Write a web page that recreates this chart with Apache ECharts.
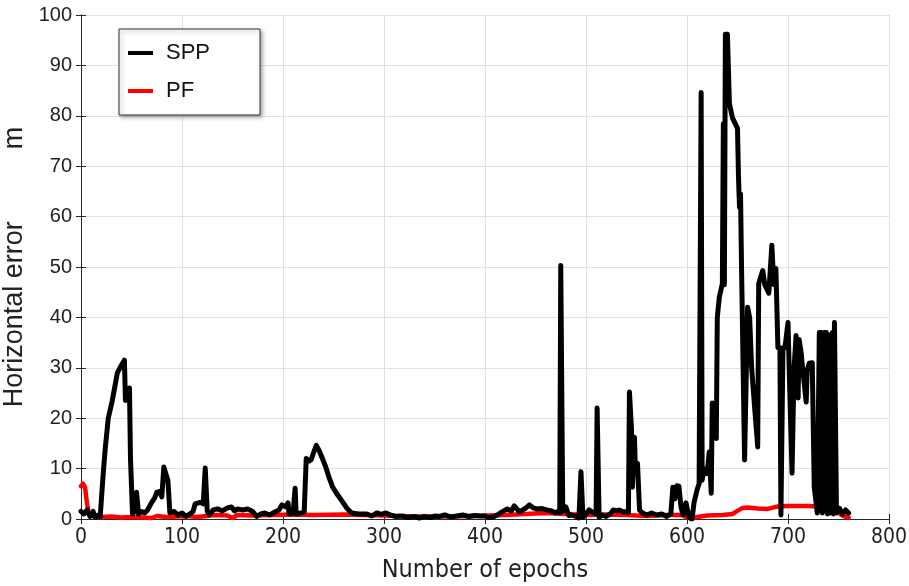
<!DOCTYPE html>
<html>
<head>
<meta charset="utf-8">
<script src="https://cdn.jsdelivr.net/npm/echarts@6/dist/echarts.min.js"></script>
<style>
  html, body { margin: 0; padding: 0; background: #fff; }
  #chart { width: 909px; height: 586px; }
</style>
</head>
<body>
<div id="chart"></div>
<script>
// SPP horizontal error (m) per epoch
const sppEpoch = [0, 3, 6, 9, 12, 14, 17, 19, 22, 24, 27, 31, 36, 40, 43, 44, 46, 48, 49, 51,
  53, 55, 57, 60, 63, 66, 70, 73, 75, 78, 80, 82, 84, 86, 88, 92, 96, 100, 104, 108,
  111, 113, 118, 121, 123, 125, 127, 131, 135, 140, 145, 149, 152, 155, 160, 165, 170, 174, 178, 182,
  187, 192, 196, 199, 203, 205, 206, 210, 212, 213, 218, 221, 223, 226, 228, 230, 233, 236, 239, 242,
  246, 249, 254, 259, 263, 268, 275, 283, 288, 293, 297, 302, 306, 312, 318, 324, 330, 335, 340, 346,
  351, 355, 360, 366, 372, 378, 384, 390, 395, 400, 404, 408, 413, 417, 422, 426, 429, 434, 440, 444,
  448, 451, 456, 461, 466, 470, 473, 474, 475, 477, 480, 483, 486, 490, 493, 495, 497, 500, 503, 506,
  508, 510, 511, 513, 516, 520, 524, 527, 531, 533, 537, 540, 542, 543, 545, 546, 548, 549, 551, 553,
  556, 560, 565, 570, 575, 580, 584, 586, 588, 590, 592, 594, 596, 599, 602, 605, 607, 610, 612, 614,
  615, 617, 620, 622, 624, 625, 628, 629, 630, 632, 635, 636, 637, 638, 640, 642, 645, 650, 651, 652,
  653, 654, 657, 660, 662, 664, 667, 670, 671, 673, 675, 677, 681, 684, 686, 688, 690, 692, 693, 695,
  697, 700, 702, 704, 706, 708, 710, 711, 713, 714, 716, 718, 719, 721, 724, 726, 729, 731, 733, 734,
  736, 738, 739, 741, 742, 744, 745, 746, 748, 751, 754, 757, 760];
const sppError = [1.5, 1.0, 1.8, 0.5, 1.5, 0.3, 0.8, 0.5, 9, 14, 20, 23.5, 29, 30.5, 31.5, 23.5, 24, 26, 12, 1,
  1.5, 5.3, 1, 1.5, 1.2, 1.8, 3.3, 4.2, 5.3, 5.5, 4.4, 10.3, 9, 7.7, 1.2, 1.5, 0.8, 1.2, 0.5, 1,
  1.5, 3, 3.3, 3, 10.1, 1.5, 0.8, 1.8, 2, 1.6, 2.2, 2.4, 1.6, 2, 1.8, 2, 1.5, 0.5, 1, 1.2,
  0.8, 1.4, 1.8, 2.8, 2.4, 3.2, 1.0, 1.2, 6.1, 1, 1.2, 1.4, 12, 11.5, 11.8, 13, 14.6, 13.5, 12, 10.5,
  8, 6.4, 4.8, 3.4, 2.2, 1.2, 1.0, 1, 0.6, 1.2, 0.9, 1.2, 0.8, 0.5, 0.6, 0.3, 0.5, 0.2, 0.5, 0.3,
  0.6, 0.5, 0.8, 0.4, 0.6, 0.8, 0.5, 0.7, 0.6, 0.6, 0.3, 0.4, 0.9, 1.4, 2, 1.6, 2.6, 1.4, 2.1, 2.8,
  2.2, 2, 2.1, 1.8, 1.6, 1.2, 1.6, 1.2, 50.3, 1.5, 2.4, 0.7, 0.8, 0.5, 0.2, 9.4, 0.3, 1, 1.8, 1.4,
  1.2, 1, 22, 0.3, 0.8, 0.5, 1, 1.8, 1.6, 1.8, 1.4, 1.5, 1.2, 25.2, 18, 6.3, 16.2, 9, 11, 1.8,
  1.2, 0.8, 1.2, 0.8, 1, 0.5, 1, 6.3, 4, 6.6, 6.5, 2.5, 0.8, 3.2, 0.3, 0, 3.3, 5.8, 7, 84.6,
  7.7, 10, 9, 13.3, 5.1, 23, 16.5, 16, 40, 44, 46.7, 78.4, 46.5, 96.2, 96.2, 82.4, 79.6, 77.5, 67.7, 61.8,
  64.5, 50, 11.7, 42, 40, 30, 22, 14.3, 46.7, 48, 49.3, 46.5, 44.8, 54.3, 46.5, 49.7, 34, 34, 0.8, 34,
  34, 39, 23.5, 9.1, 30, 36.4, 24, 35.6, 33, 30.9, 27, 23.2, 29.4, 30.9, 31, 6.3, 1.2, 37, 37, 1.2,
  37, 37, 1, 36.5, 1.2, 37, 1, 39, 1.2, 2.1, 1, 1.8, 1.2];

// PF horizontal error (m)
const pfEpoch = [0, 2, 4, 6, 8, 12, 20, 30, 40, 50, 60, 70, 75, 85, 95, 105, 115, 125, 130, 145,
  150, 155, 170, 190, 210, 230, 260, 280, 300, 330, 360, 390, 420, 440, 460, 480, 500, 520, 540, 560,
  580, 595, 600, 605, 610, 620, 635, 645, 650, 655, 660, 670, 680, 690, 700, 720, 730, 740, 750, 755, 760];
const pfError = [6.5, 7, 6.3, 3, 0.8, 0.6, 0.4, 0.5, 0.3, 0.4, 0.3, 0.2, 0.6, 0.4, 0.5, 0.6, 0.4, 0.6, 0.8, 0.7,
  0.2, 0.8, 0.7, 0.8, 0.9, 0.8, 0.9, 0.8, 0.7, 0.5, 0.5, 0.6, 0.8, 1.0, 1.2, 1.0, 0.8, 0.9, 0.8, 0.6,
  0.8, 0.8, 0.3, 0.1, 0.4, 0.7, 0.8, 1.0, 1.6, 2.2, 2.3, 2.1, 2.0, 2.5, 2.6, 2.6, 2.5, 2.0, 1.2, 0.6, 0.3];

const xTicks = { min: 0, max: 800, interval: 100 };
const yTicks = { min: 0, max: 100, interval: 10 };

const FONT = "'Liberation Sans', 'Noto Sans', sans-serif";
const NARROW = "'Liberation Sans Narrow', 'DejaVu Sans Condensed', 'Liberation Sans', sans-serif";

const pairs = (xs, ys) => xs.map((x, i) => [x, ys[i]]);

const chart = echarts.init(document.getElementById('chart'), null, { renderer: 'canvas' });

const gridLine = { show: true, lineStyle: { color: '#e0e0e0', width: 1 } };
const frame = { show: true, lineStyle: { color: '#262626', width: 1 } };
const inTick = { show: true, inside: true, length: 5, lineStyle: { color: '#262626' } };

chart.setOption({
  animation: false,
  grid: { left: 81, right: 20, top: 15, bottom: 67, containLabel: false, outerBoundsMode: 'none' },
  legend: {
    orient: 'vertical',
    left: 119, top: 29,
    padding: [13, 50, 13, 9],
    itemGap: 16,
    itemWidth: 25, itemHeight: 4,
    icon: 'rect',
    backgroundColor: '#fff',
    borderColor: '#333',
    borderWidth: 1,
    shadowColor: 'rgba(0,0,0,0.35)',
    shadowBlur: 4, shadowOffsetX: 2, shadowOffsetY: 2,
    textStyle: { fontFamily: FONT, fontSize: 22, color: '#111', padding: [0, 0, 0, 8] },
    data: ['SPP', 'PF']
  },
  xAxis: [{
    type: 'value', ...xTicks,
    name: 'Number of epochs', nameLocation: 'middle', nameGap: 39,
    nameTextStyle: { fontFamily: NARROW, fontSize: 25, color: '#222' },
    axisLine: frame, axisTick: inTick, splitLine: gridLine,
    axisLabel: { fontFamily: NARROW, fontSize: 21, color: '#222', margin: 8 }
  }, {
    type: 'value', position: 'top', ...xTicks,
    axisLine: frame, axisTick: inTick, splitLine: { show: false },
    axisLabel: { show: false }
  }],
  yAxis: [{
    type: 'value', ...yTicks,
    name: '{a|Horizontal error}{b|m}', nameLocation: 'middle', nameGap: 41,
    nameTextStyle: {
      fontFamily: FONT, fontSize: 27, color: '#222',
      rich: {
        a: { fontFamily: FONT, fontSize: 27, color: '#222' },
        b: { fontFamily: FONT, fontSize: 27, color: '#222', padding: [0, 0, 0, 72] }
      }
    },
    axisLine: frame, axisTick: inTick, splitLine: gridLine,
    axisLabel: { fontFamily: FONT, fontSize: 20, color: '#222', margin: 9 }
  }, {
    type: 'value', position: 'right', ...yTicks,
    axisLine: frame, axisTick: inTick, splitLine: { show: false },
    axisLabel: { show: false }
  }],
  series: [{
    name: 'SPP', type: 'line',
    data: pairs(sppEpoch, sppError),
    showSymbol: false,
    color: '#000',
    lineStyle: { color: '#000', width: 5, join: 'round', cap: 'round' },
    z: 3
  }, {
    name: 'PF', type: 'line',
    data: pairs(pfEpoch, pfError),
    showSymbol: false,
    color: '#ff0000',
    lineStyle: { color: '#ff0000', width: 4.5, join: 'round', cap: 'round' },
    z: 2
  }]
});
</script>
</body>
</html>
